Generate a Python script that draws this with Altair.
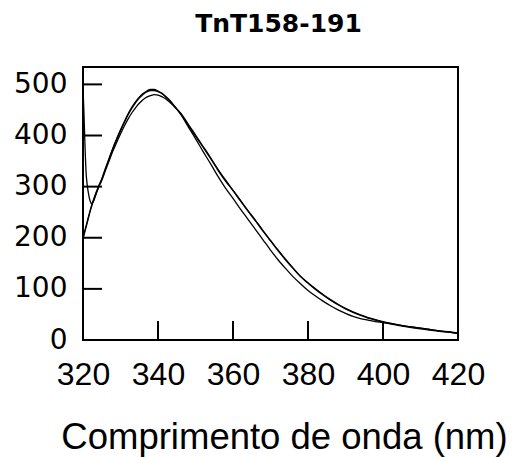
import altair as alt
import pandas as pd

# ---- data ----
start_a_nm = [320.0, 320.2, 320.4, 320.6, 320.8, 321.1, 321.5, 321.9, 322.3, 322.8, 323.3, 323.8, 324.3]
start_a_val = [495, 455, 410, 365, 330, 305, 285, 272, 267, 271, 281, 292, 303]
start_b_nm = [320.0, 320.5, 321.0, 321.5, 322.0, 322.5, 323.0, 323.5, 324.0, 324.5]
start_b_val = [200, 214, 228, 242, 256, 268, 279, 289, 298, 306]
start_c_nm = [320.0, 321.0, 322.0, 323.0, 324.0]
start_c_val = [198, 226, 254, 277, 296]

main_nm = [325, 326, 327, 328, 329, 330, 331, 332, 333, 334, 335, 336, 337, 338, 339,
           340, 341, 342, 343, 344, 345, 346, 348, 350, 352, 354, 356, 358, 360, 362,
           364, 366, 368, 370, 372, 374, 376, 378, 380, 382, 384, 386, 388, 390, 392,
           394, 396, 398, 400, 403, 406, 409, 412, 415, 418, 420]
main_a = [315, 336, 356, 376, 394, 411, 427, 442, 455, 466, 475, 482, 487, 490, 490,
          487, 483, 477, 470, 461, 452, 443, 421, 399, 377, 355, 332, 311, 292, 272,
          252, 233, 213, 194, 175, 157, 140, 124, 111, 99, 88, 78, 69, 61, 54,
          48, 43, 39, 35, 31, 27, 24, 21, 18, 15, 13]
main_b = [314, 335, 355, 374, 392, 409, 425, 440, 453, 464, 473, 480, 485, 488, 488,
          486, 482, 476, 469, 461, 452, 444, 423, 401, 379, 357, 334, 313, 293, 273,
          253, 234, 214, 195, 176, 158, 141, 125, 112, 100, 89, 79, 70, 62, 55,
          49, 44, 40, 36, 31, 27, 24, 21, 18, 16, 14]
main_c = [312, 332, 351, 370, 387, 403, 418, 432, 444, 454, 463, 470, 475, 478, 480,
          479, 476, 472, 466, 459, 451, 442, 418, 394, 369, 345, 320, 297, 277, 256,
          236, 216, 196, 176, 157, 140, 124, 110, 97, 86, 76, 67, 59, 52, 46,
          42, 39, 36, 34, 30, 26, 23, 20, 17, 15, 13]

x_ticks = [320, 340, 360, 380, 400, 420]
y_ticks = [0, 100, 200, 300, 400, 500]

rows = []
for name, xs, ys in [("A", start_a_nm + main_nm, start_a_val + main_a),
                     ("B", start_b_nm + main_nm, start_b_val + main_b),
                     ("C", start_c_nm + main_nm, start_c_val + main_c)]:
    for i, (x, y) in enumerate(zip(xs, ys)):
        rows.append({"series": name, "nm": x, "val": y, "order": i})
df = pd.DataFrame(rows)

xscale = alt.Scale(domain=[320, 420], nice=False, zero=False)
yscale = alt.Scale(domain=[0, 534], nice=False)

lines = alt.Chart(df).mark_line(color="black", strokeWidth=1.3, interpolate="monotone").encode(
    x=alt.X("nm:Q", scale=xscale,
            axis=alt.Axis(values=x_ticks, ticks=False, domain=False, grid=False,
                          labelFont="Liberation Sans", labelFontSize=32, labelColor="black",
                          labelPadding=19, labelFlush=False,
                          title="Comprimento de onda (nm)", titleFont="Liberation Sans",
                          titleFontSize=36.5, titleFontWeight="normal", titleColor="black",
                          titleX=201, titleY=108, titleBaseline="alphabetic", titleAlign="center")),
    y=alt.Y("val:Q", scale=yscale,
            axis=alt.Axis(values=y_ticks, ticks=False, domain=False, grid=False,
                          labelFont="DejaVu Sans", labelFontSize=28, labelColor="black",
                          labelPadding=16, labelFlush=False, title=None)),
    detail="series:N",
    order="order:Q",
)

ytick_df = pd.DataFrame({"t": y_ticks[1:]})
xtick_df = pd.DataFrame({"t": x_ticks[1:-1]})

yt = alt.Chart(ytick_df).mark_rule(color="black", strokeWidth=2).encode(
    y=alt.Y("t:Q", scale=yscale), x=alt.value(0), x2=alt.value(19))
xt = alt.Chart(xtick_df).mark_rule(color="black", strokeWidth=2).encode(
    x=alt.X("t:Q", scale=xscale), y=alt.value(273), y2=alt.value(254))

chart = alt.layer(lines, yt, xt).properties(
    width=375, height=273,
    autosize=alt.AutoSizeParams(type="none"),
    padding={"left": 83, "top": 67, "right": 61, "bottom": 117},
    title=alt.TitleParams("TnT158-191", font="DejaVu Sans", fontSize=25, fontWeight="bold",
                          anchor="middle", dx=8, offset=10, baseline="alphabetic", color="black"),
).configure(background="white").configure_view(stroke="black", strokeWidth=2)

chart.save("out.html", embed_options={"renderer": "svg", "actions": False})
